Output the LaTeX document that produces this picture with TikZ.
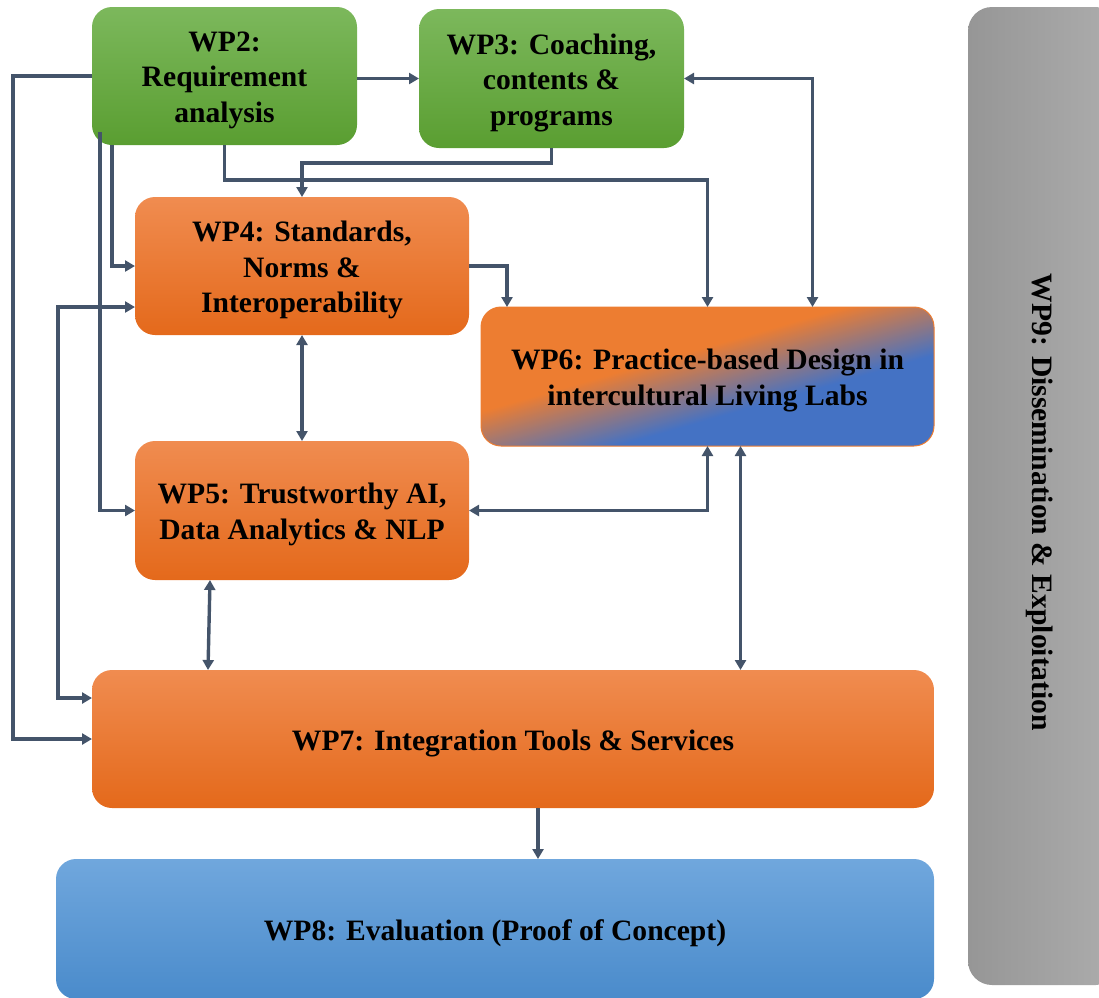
\documentclass[tikz,border=0pt]{standalone}
\usepackage{fontspec}
\setmainfont{Liberation Serif}
\usetikzlibrary{arrows.meta,calc}

\definecolor{linkc}{HTML}{44546A}
\definecolor{greenT}{HTML}{7CB85C}
\definecolor{greenB}{HTML}{5A9E31}
\definecolor{orangeT}{HTML}{F08C50}
\definecolor{orangeB}{HTML}{E4691B}
\definecolor{orangeE}{HTML}{ED7D31}
\definecolor{blueT}{HTML}{70A7DD}
\definecolor{blueB}{HTML}{4A8BCB}
\definecolor{blueS}{HTML}{4472C4}
\definecolor{grayL}{HTML}{969696}
\definecolor{grayR}{HTML}{ADADAD}

% diagonal orange-to-blue fill of the living-lab box
\pgfdeclareverticalshading{labshade}{100bp}{color(0bp)=(blueS); color(40bp)=(blueS); color(57bp)=(orangeE); color(100bp)=(orangeE)}

\tikzset{
  wpfont/.style={font=\bfseries\fontsize{29.6}{35.5}\selectfont, text=black},
  wptext/.style={wpfont, align=center, inner sep=0pt, yshift=-4pt},
  wpbox/.style={rectangle, rounded corners=20pt, outer sep=0pt, inner sep=0pt},
  greenbox/.style={wpbox, top color=greenT, bottom color=greenB},
  orangebox/.style={wpbox, top color=orangeT, bottom color=orangeB},
  bluebox/.style={wpbox, top color=blueT, bottom color=blueB},
  link/.style={draw=linkc, line width=3.4pt},
  arr/.style={link, -{Triangle[length=10pt,width=11pt]}},
  biarr/.style={link, {Triangle[length=10pt,width=11pt]}-{Triangle[length=10pt,width=11pt]}}
}

\begin{document}
\begin{tikzpicture}[x=1pt,y=-1pt]
\useasboundingbox (0,0) rectangle (1099,997);
\clip (0,0) rectangle (1099,997);

% work packages
\node[greenbox, minimum width=265pt, minimum height=138pt,
      label={[wptext]center:{WP2:\\Requirement\\analysis}}] (wp2) at (224.5,76) {};
\node[greenbox, minimum width=265pt, minimum height=139pt,
      label={[wptext]center:{WP3: Coaching,\\contents \&\\programs}}] (wp3) at (551.5,78.5) {};
\node[orangebox, minimum width=334pt, minimum height=138pt,
      label={[wptext]center:{WP4: Standards,\\Norms \&\\Interoperability}}] (wp4) at (302,266) {};
\node[orangebox, minimum width=334pt, minimum height=139pt,
      label={[wptext]center:{WP5: Trustworthy AI,\\Data Analytics \& NLP}}] (wp5) at (302,510.5) {};
\node[wpbox, shade, shading=labshade, shading angle=16, draw=orangeE, line width=1pt,
      minimum width=453pt, minimum height=139pt,
      label={[wptext]center:{WP6: Practice-based Design in\\intercultural Living Labs}}] (wp6) at (707.5,376.5) {};
\node[orangebox, minimum width=842pt, minimum height=138pt,
      label={[wptext]center:{WP7: Integration Tools \& Services}}] (wp7) at (513,739) {};
\node[bluebox, minimum width=878pt, minimum height=140pt,
      label={[wptext]center:{WP8: Evaluation (Proof of Concept)}}] (wp8) at (495,929) {};
\node[wpbox, rounded corners=24pt, left color=grayL, right color=grayR,
      minimum width=152pt, minimum height=978pt] (wp9) at (1044,496) {};
\node[wpfont, rotate=-90] (wp9text) at (1040,502.5) {WP9: Dissemination \& Exploitation};

% connectors
\draw[arr] (wp2.west) -- ++(-79,0) |- (wp7.west);
\draw[arr] ($(wp2.south west)+(8,-13)$) |- (wp5.west);
\draw[arr] ($(wp2.south west)+(20,0)$) |- (wp4.west);
\draw[biarr] ($(wp4.west)+(0,41)$) -- ++(-77,0) |- ($(wp7.west)+(0,-41)$);
\draw[arr] (wp2.east |- wp3.west) -- (wp3.west);
\draw[arr] (wp2.south) -- ++(0,35) -| (wp6.north);
\draw[arr] (wp3.south) -- ++(0,15) -| (wp4.north);
\draw[biarr] (wp3.east) -| ($(wp6.north)+(105,0)$);
\draw[arr] (wp4.east) -| ($(wp6.north west)+(26,0)$);
\draw[biarr] (wp4.south) -- (wp5.north);
\draw[biarr] (wp6.south) |- (wp5.east);
\draw[biarr] ($(wp6.south)+(33,0)$) coordinate (d6) -- (d6 |- wp7.north);
\draw[biarr] ($(wp5.south west)+(75,0)$) -- ($(wp7.north west)+(116,0)$);
\draw[arr] ($(wp7.south)+(25,0)$) coordinate (d7) -- (d7 |- wp8.north);
\end{tikzpicture}
\end{document}
